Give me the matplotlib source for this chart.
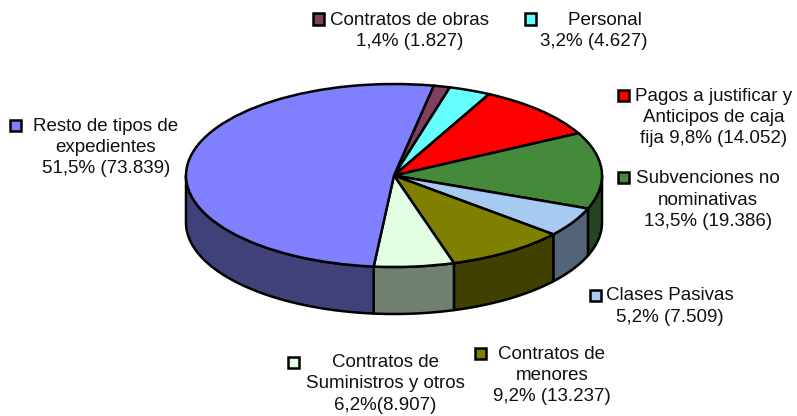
import matplotlib
matplotlib.use('Agg')
import matplotlib.pyplot as plt
from matplotlib.patches import Polygon, Rectangle
import numpy as np

# data
categories = ['Contratos de obras', 'Personal',
              'Pagos a justificar y\nAnticipos de caja\nfija',
              'Subvenciones no\nnominativas', 'Clases Pasivas',
              'Contratos de\nmenores', 'Contratos de\nSuministros y otros',
              'Resto de tipos de\nexpedientes']
values = [1827, 4627, 14052, 19386, 7509, 13237, 8907, 73839]
pct_labels = ['1,4%', '3,2%', '9,8%', '13,5%', '5,2%', '9,2%', '6,2%', '51,5%']
value_labels = ['1.827', '4.627', '14.052', '19.386', '7.509', '13.237', '8.907', '73.839']

top_colors = ['#7F3F5F', '#66FFFF', '#FF0000', '#458A3A', '#A6CAF0',
              '#808000', '#E3FFE3', '#8080FF']
side_colors = ['#3F1F2F', '#338080', '#800000', '#234520', '#536478',
               '#404000', '#718071', '#414179']

W, H = 797, 416
fig = plt.figure(figsize=(W / 100, H / 100), dpi=100)
ax = fig.add_axes([0, 0, 1, 1])

# pie geometry in pixels: centre, horizontal / vertical radius, depth
cx, cy, rx, ry, depth_px = 394, 175.5, 208, 91.5, 47
depth = depth_px / ry

wedges, _ = ax.pie(values, startangle=79, counterclock=False, colors=top_colors,
                   wedgeprops=dict(edgecolor='black', linewidth=1.8, zorder=3))

ax.set_aspect('auto')
ax.set_xlim(-cx / rx, (W - cx) / rx)
ax.set_ylim(-(H - cy) / ry, cy / ry)
ax.axis('off')


def front_spans(t1, t2):
    spans = []
    for k in range(-2, 3):
        a = max(t1, 180 + 360 * k)
        b = min(t2, 360 + 360 * k)
        if b > a:
            spans.append((a, b))
    return spans


# side walls of the 3D pie
for w, sc in zip(wedges, side_colors):
    for a, b in front_spans(w.theta1, w.theta2):
        t = np.radians(np.linspace(a, b, 80))
        top = np.column_stack([np.cos(t), np.sin(t)])
        bot = np.column_stack([np.cos(t[::-1]), np.sin(t[::-1]) - depth])
        ax.add_patch(Polygon(np.vstack([top, bot]), closed=True, facecolor=sc,
                             edgecolor='black', linewidth=1.8, zorder=1,
                             joinstyle='round'))

# label layout (pixel positions): text centre, marker position
label_pos = [(410, 31), (594, 31), (714, 117.5), (708, 200),
             (670, 306.5), (552, 375.5), (385, 384), (106, 147.5)]
marker_pos = [(318, 19), (530, 19), (623, 95), (623, 178),
              (595, 295), (480, 353), (293, 362), (15, 125)]

for i, name in enumerate(categories):
    if i == 2:
        txt = f'{name} {pct_labels[i]} ({value_labels[i]})'
    elif i == 6:
        txt = f'{name}\n{pct_labels[i]}({value_labels[i]})'
    elif i == 1:
        txt = f'    {name}\n{pct_labels[i]} ({value_labels[i]})'
    else:
        txt = f'{name}\n{pct_labels[i]} ({value_labels[i]})'
    x, y = label_pos[i]
    fig.text(x / W, 1 - y / H, txt, ha='center', va='center', ma='center',
             fontsize=13.5, family='Liberation Sans', color='#111111',
             linespacing=1.33)
    mx, my = marker_pos[i]
    s = 11
    fig.add_artist(Rectangle(((mx - s / 2) / W, 1 - (my + s / 2) / H), s / W, s / H,
                             transform=fig.transFigure, facecolor=top_colors[i],
                             edgecolor='black', linewidth=1.8))

fig.savefig('out.png', dpi=100)
